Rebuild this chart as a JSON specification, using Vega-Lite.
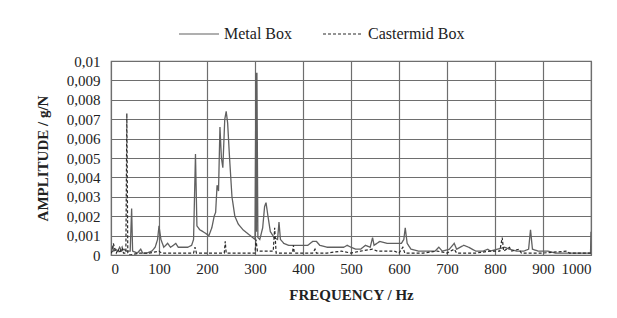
{
  "$schema": "https://vega.github.io/schema/vega-lite/v6.json",
  "autosize": {"type": "none"},
  "padding": {"left": 111, "top": 61, "right": 26, "bottom": 63},
  "width": 480,
  "height": 194,
  "background": "white",
  "datasets": {
    "metal": [
      {"f":0,"a":0.0002},{"f":3,"a":0.0004},{"f":6,"a":0.0002},{"f":10,"a":0.0003},{"f":14,"a":0.0002},{"f":18,"a":0.0004},{"f":22,"a":0.0002},{"f":27,"a":0.0003},{"f":32,"a":0.0002},{"f":40,"a":0.0002},{"f":43,"a":0.0024},{"f":45,"a":0.0002},{"f":55,"a":0.0001},{"f":62,"a":0.0003},{"f":66,"a":0.0001},{"f":75,"a":0.0001},{"f":85,"a":0.0002},{"f":92,"a":0.0004},{"f":97,"a":0.0008},{"f":100,"a":0.0015},{"f":104,"a":0.0008},{"f":110,"a":0.0004},{"f":118,"a":0.0006},{"f":124,"a":0.0004},{"f":130,"a":0.0005},{"f":135,"a":0.0006},{"f":140,"a":0.0004},{"f":150,"a":0.0004},{"f":160,"a":0.0004},{"f":168,"a":0.0005},{"f":172,"a":0.0008},{"f":176,"a":0.0052},{"f":179,"a":0.0015},{"f":185,"a":0.0013},{"f":192,"a":0.0012},{"f":198,"a":0.0011},{"f":204,"a":0.001},{"f":210,"a":0.0014},{"f":215,"a":0.002},{"f":218,"a":0.0022},{"f":221,"a":0.0036},{"f":224,"a":0.0033},{"f":227,"a":0.0066},{"f":230,"a":0.005},{"f":233,"a":0.0045},{"f":237,"a":0.007},{"f":240,"a":0.0074},{"f":243,"a":0.0068},{"f":247,"a":0.005},{"f":252,"a":0.003},{"f":258,"a":0.002},{"f":265,"a":0.0016},{"f":275,"a":0.0013},{"f":285,"a":0.0011},{"f":295,"a":0.0009},{"f":300,"a":0.0008},{"f":302,"a":0.0094},{"f":303,"a":0.0012},{"f":304,"a":0.0094},{"f":306,"a":0.0009},{"f":310,"a":0.0008},{"f":316,"a":0.0014},{"f":320,"a":0.0025},{"f":323,"a":0.0027},{"f":327,"a":0.002},{"f":332,"a":0.0012},{"f":340,"a":0.0009},{"f":347,"a":0.0008},{"f":350,"a":0.0017},{"f":353,"a":0.0008},{"f":360,"a":0.0006},{"f":370,"a":0.0005},{"f":385,"a":0.0005},{"f":400,"a":0.0005},{"f":410,"a":0.0005},{"f":420,"a":0.0007},{"f":428,"a":0.0007},{"f":435,"a":0.0005},{"f":450,"a":0.0004},{"f":470,"a":0.0004},{"f":485,"a":0.0004},{"f":492,"a":0.0005},{"f":500,"a":0.0004},{"f":510,"a":0.0003},{"f":520,"a":0.0003},{"f":530,"a":0.0005},{"f":540,"a":0.0004},{"f":545,"a":0.0009},{"f":548,"a":0.0005},{"f":560,"a":0.0007},{"f":575,"a":0.0006},{"f":590,"a":0.0006},{"f":605,"a":0.0006},{"f":610,"a":0.0008},{"f":613,"a":0.0014},{"f":617,"a":0.0006},{"f":625,"a":0.0003},{"f":640,"a":0.0002},{"f":660,"a":0.0002},{"f":675,"a":0.0002},{"f":683,"a":0.0004},{"f":690,"a":0.0002},{"f":705,"a":0.0003},{"f":715,"a":0.0006},{"f":720,"a":0.0003},{"f":735,"a":0.0005},{"f":745,"a":0.0004},{"f":760,"a":0.0002},{"f":775,"a":0.0002},{"f":785,"a":0.0003},{"f":790,"a":0.0002},{"f":805,"a":0.0003},{"f":820,"a":0.0004},{"f":830,"a":0.0003},{"f":845,"a":0.0002},{"f":860,"a":0.0002},{"f":870,"a":0.0003},{"f":874,"a":0.0013},{"f":878,"a":0.0003},{"f":890,"a":0.0002},{"f":910,"a":0.0002},{"f":925,"a":0.0001},{"f":950,"a":0.0001},{"f":970,"a":0.0001},{"f":999,"a":0.0001},{"f":1000,"a":0.0012}
    ],
    "caster": [
      {"f":0,"a":0.0001},{"f":3,"a":0.0002},{"f":5,"a":0.0006},{"f":8,"a":0.0003},{"f":11,"a":0.0001},{"f":15,"a":0.0003},{"f":18,"a":0.0001},{"f":23,"a":0.0004},{"f":26,"a":0.0001},{"f":31,"a":0.0001},{"f":33,"a":0.0073},{"f":35,"a":0.0001},{"f":40,"a":0.0},{"f":60,"a":0.0001},{"f":80,"a":0.0001},{"f":100,"a":0.0002},{"f":105,"a":0.0001},{"f":130,"a":0.0001},{"f":150,"a":0.0001},{"f":172,"a":0.0001},{"f":175,"a":0.0004},{"f":178,"a":0.0001},{"f":200,"a":0.0001},{"f":236,"a":0.0001},{"f":238,"a":0.0007},{"f":240,"a":0.0001},{"f":270,"a":0.0001},{"f":300,"a":0.0001},{"f":302,"a":0.0008},{"f":305,"a":0.0002},{"f":320,"a":0.0002},{"f":338,"a":0.0002},{"f":341,"a":0.0014},{"f":344,"a":0.0001},{"f":360,"a":0.0001},{"f":378,"a":0.0001},{"f":380,"a":0.0005},{"f":382,"a":0.0001},{"f":400,"a":0.0001},{"f":420,"a":0.0001},{"f":425,"a":0.0003},{"f":428,"a":0.0001},{"f":450,"a":0.0001},{"f":480,"a":0.0002},{"f":500,"a":0.0001},{"f":520,"a":0.0002},{"f":545,"a":0.0003},{"f":555,"a":0.0002},{"f":570,"a":0.0002},{"f":590,"a":0.0002},{"f":600,"a":0.0001},{"f":608,"a":0.0004},{"f":612,"a":0.0001},{"f":650,"a":0.0001},{"f":680,"a":0.0002},{"f":700,"a":0.0001},{"f":715,"a":0.0003},{"f":720,"a":0.0001},{"f":760,"a":0.0001},{"f":790,"a":0.0002},{"f":810,"a":0.0002},{"f":815,"a":0.0009},{"f":818,"a":0.0002},{"f":830,"a":0.0004},{"f":835,"a":0.0002},{"f":850,"a":0.0003},{"f":855,"a":0.0001},{"f":880,"a":0.0001},{"f":900,"a":0.0001},{"f":950,"a":0.0002},{"f":955,"a":0.0001},{"f":1000,"a":0.0001}
    ]
  },
  "encoding": {
    "x": {
      "field": "f", "type": "quantitative",
      "scale": {"domain": [0, 1000], "nice": false},
      "axis": {
        "title": "FREQUENCY / Hz",
        "values": [0,100,200,300,400,500,600,700,800,900,1000],
        "format": "d",
        "titlePadding": 11
      }
    },
    "y": {
      "field": "a", "type": "quantitative",
      "scale": {"domain": [0, 0.01], "nice": false},
      "axis": {
        "title": "AMPLITUDE / g/N",
        "values": [0,0.001,0.002,0.003,0.004,0.005,0.006,0.007,0.008,0.009,0.01],
        "labelExpr": "replace(toString(datum.value), '.', ',')",
        "titlePadding": 16
      }
    },
    "color": {
      "field": "series", "type": "nominal",
      "scale": {"domain": ["Metal Box", "Castermid Box"], "range": ["#606060", "#2a2a2a"]},
      "legend": {
        "title": null,
        "orient": "none",
        "legendX": 67,
        "legendY": -48,
        "direction": "horizontal",
        "symbolType": "stroke",
        "symbolSize": 1600,
        "symbolStrokeWidth": 1.2,
        "labelFont": "Liberation Serif",
        "labelFontSize": 16,
        "labelColor": "#222",
        "labelOffset": 4,
        "columnPadding": 28,
        "padding": 0
      }
    },
    "strokeDash": {
      "field": "series", "type": "nominal",
      "scale": {"domain": ["Metal Box", "Castermid Box"], "range": [[1, 0], [3, 2]]},
      "legend": {
        "title": null,
        "orient": "none",
        "legendX": 67,
        "legendY": -48,
        "direction": "horizontal",
        "symbolType": "stroke",
        "symbolSize": 1600,
        "symbolStrokeWidth": 1.2,
        "labelFont": "Liberation Serif",
        "labelFontSize": 16,
        "labelColor": "#222",
        "labelOffset": 4,
        "columnPadding": 28,
        "padding": 0
      }
    }
  },
  "layer": [
    {
      "data": {"name": "metal"},
      "transform": [{"calculate": "'Metal Box'", "as": "series"}],
      "mark": {"type": "line", "strokeWidth": 1.3, "clip": true}
    },
    {
      "data": {"name": "caster"},
      "transform": [{"calculate": "'Castermid Box'", "as": "series"}],
      "mark": {"type": "line", "strokeWidth": 1.2, "clip": true}
    }
  ],
  "config": {
    "view": {"stroke": "#6e6e6e", "strokeWidth": 1.2},
    "font": "Liberation Serif",
    "axis": {
      "domain": false,
      "ticks": false,
      "grid": true,
      "gridColor": "#6e6e6e",
      "gridOpacity": 1,
      "gridWidth": 1.2,
      "labelFont": "Liberation Serif",
      "labelFontSize": 15,
      "labelColor": "#222",
      "titleFont": "Liberation Serif",
      "titleFontSize": 15,
      "titleFontWeight": "bold",
      "titleColor": "#222"
    },
    "axisX": {"labelPadding": 6},
    "axisY": {"labelPadding": 11}
  }
}
